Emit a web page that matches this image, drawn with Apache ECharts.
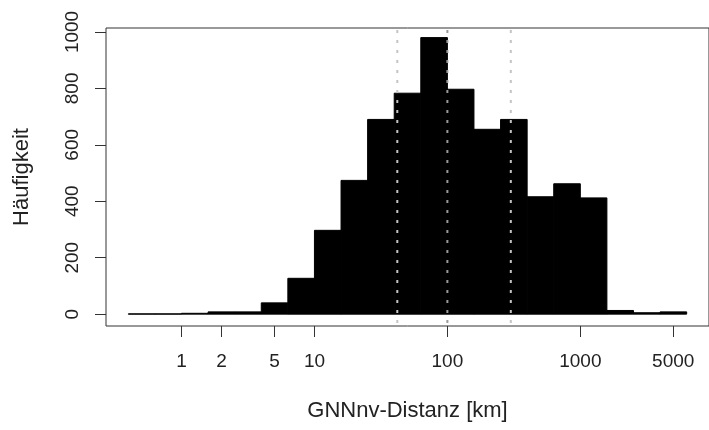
<!DOCTYPE html>
<html>
<head>
<meta charset="utf-8">
<script src="https://cdn.jsdelivr.net/npm/echarts@6/dist/echarts.min.js"></script>
<style>
	html, body { margin: 0; padding: 0; background: #fff; }
	#chart { width: 709px; height: 430px; }
</style>
</head>
<body>
<div id="chart"></div>
<script>
// bins in log10(km), width 0.2
let binStart = [-0.4,-0.2,0,0.2,0.4,0.6,0.8,1.0,1.2,1.4,1.6,1.8,2.0,2.2,2.4,2.6,2.8,3.0,3.2,3.4,3.6]
let binEnd = [-0.2,0,0.2,0.4,0.6,0.8,1.0,1.2,1.4,1.6,1.8,2.0,2.2,2.4,2.6,2.8,3.0,3.2,3.4,3.6,3.8]
let counts = [1,1,3,8,8,40,127,297,474,690,783,980,797,655,690,416,462,412,13,5,8]
// dotted reference lines (km)
let refLines = [42,100,300]
let refColors = ["#c4c4c4","#9a9a9a","#c4c4c4"]
let xTicks = [1,2,5,10,100,1000,5000]
let yTicks = [0,200,400,600,800,1000]

let fontFam = "Liberation Sans, Arial, sans-serif"
let barData = binStart.map((s, i) => [s, binEnd[i], counts[i]])
let refData = refLines.map((v, i) => [Math.log10(v), i])

let chart = echarts.init(document.getElementById("chart"))
chart.setOption({
	animation: false,
	backgroundColor: "#fff",
	grid: {
		left: 106,
		top: 28,
		right: -3,
		bottom: 104,
		show: true,
		borderColor: "#333",
		borderWidth: 1
	},
	xAxis: {
		type: "value",
		min: -0.568,
		max: 3.968,
		name: "GNNnv-Distanz [km]",
		nameLocation: "middle",
		nameGap: 74,
		nameTextStyle: { fontSize: 22, color: "#222", fontFamily: fontFam },
		axisLine: { show: false, onZero: false },
		splitLine: { show: false },
		axisTick: {
			show: true,
			length: 11,
			customValues: xTicks.map(v => Math.log10(v)),
			lineStyle: { color: "#333", width: 1 }
		},
		axisLabel: {
			customValues: xTicks.map(v => Math.log10(v)),
			formatter: v => String(Math.round(Math.pow(10, v))),
			margin: 26,
			fontSize: 19,
			color: "#222",
			fontFamily: fontFam
		}
	},
	yAxis: {
		type: "value",
		min: -42,
		max: 1014,
		name: "Häufigkeit",
		nameLocation: "middle",
		nameGap: 73,
		nameTextStyle: { fontSize: 22, color: "#222", fontFamily: fontFam },
		axisLine: { show: false, onZero: false },
		splitLine: { show: false },
		axisTick: {
			show: true,
			length: 11,
			customValues: yTicks,
			lineStyle: { color: "#333", width: 1 }
		},
		axisLabel: {
			customValues: yTicks,
			formatter: v => String(v),
			rotate: 90,
			margin: 24,
			fontSize: 19,
			color: "#222",
			fontFamily: fontFam
		}
	},
	series: [
		{
			type: "custom",
			data: barData,
			encode: { x: [0, 1], y: 2 },
			renderItem(params, api) {
				let p0 = api.coord([api.value(0), api.value(2)])
				let p1 = api.coord([api.value(1), 0])
				return {
					type: "rect",
					shape: { x: p0[0], y: p0[1], width: p1[0] - p0[0], height: p1[1] - p0[1] },
					style: { fill: "#000", stroke: "#000", lineWidth: 1 }
				}
			}
		},
		{
			type: "custom",
			data: refData,
			z: 5,
			encode: { x: 0 },
			renderItem(params, api) {
				let cs = params.coordSys
				let x = api.coord([api.value(0), 0])[0]
				return {
					type: "line",
					shape: { x1: x, y1: cs.y + 2, x2: x, y2: cs.y + cs.height - 1 },
					style: { stroke: refColors[api.value(1)], lineWidth: 2, lineDash: [3, 7] }
				}
			}
		}
	]
})
</script>
</body>
</html>
